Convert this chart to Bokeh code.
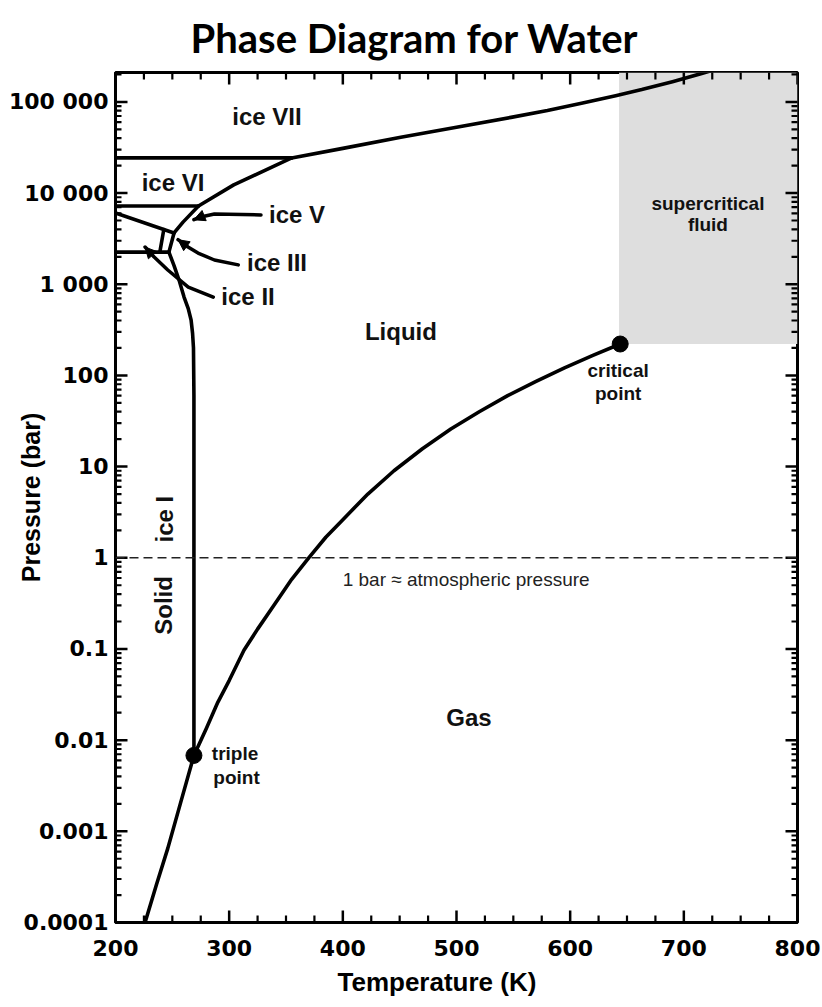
import math
from bokeh.plotting import figure
from bokeh.models import (FixedTicker, CustomJSTickFormatter, Title,
                          Span, Range1d, Arrow, NormalHead)
from bokeh.core.properties import value
from bokeh.embed import file_html
from bokeh.resources import INLINE

# ---------------- data (temperature in K, pressure in bar) ----------------
x_lo, x_hi = 200, 800
y_lo, y_hi = 1e-4, 2.1e5
x_ticks = [200, 300, 400, 500, 600, 700, 800]
x_minor = [225, 250, 275, 325, 350, 375, 425, 450, 475, 525, 550, 575, 625, 650, 675, 725, 750, 775]
y_ticks = [1e-4, 1e-3, 1e-2, 1e-1, 1, 10, 100, 1000, 10000, 100000]
y_tick_labels = ["0.0001", "0.001", "0.01", "0.1", "1", "10", "100", "1 000", "10 000", "100 000"]

# solid - gas (sublimation)
sub_T = [226, 236, 246, 257, 269]
sub_P = [1.0e-4, 2.6e-4, 6.5e-4, 0.002, 0.0068]
# liquid - gas (vaporization) up to the critical point
vap_T = [269, 280, 290, 300, 313, 325, 340, 355, 370, 385, 400, 422, 445, 470, 495, 520,
         545, 570, 595, 620, 644]
vap_P = [0.0068, 0.0135, 0.026, 0.045, 0.097, 0.165, 0.31, 0.58, 1.0, 1.68, 2.62, 5.0, 9.0,
         15.7, 25.8, 40.0, 60.0, 86.0, 121, 166, 221]
# ice I - liquid (melting)
melt_T = [269, 269, 268.6, 267.8, 266.5, 264, 260.3, 255.9, 251.5, 247]
melt_P = [0.0068, 60, 200, 290, 405, 540, 724, 1110, 1600, 2250]
# ice I / ice II boundary
ih_T = [200, 247]
ih_P = [2250, 2250]
# ice II / ice V boundary (through ice III corner)
iiv_T = [200, 242.5, 251.5]
iiv_P = [6050, 3980, 3650]
# ice II / ice III
iiiii_T = [242.5, 239]
iiiii_P = [3980, 2250]
# ice III / liquid
iiil_T = [251.5, 247]
iiil_P = [3650, 2250]
# ice V / liquid
vl_T = [251.5, 259.4, 273]
vl_P = [3650, 4800, 7200]
# ice V / ice VI
vvi_T = [200, 273]
vvi_P = [7200, 7200]
# ice VI / liquid
vil_T = [273, 304, 355]
vil_P = [7200, 12300, 24300]
# ice VI / ice VII
vivii_T = [200, 355]
vivii_P = [24300, 24300]
# ice VII / liquid
viil_T = [355, 400, 451, 500, 548, 580, 610, 640, 663, 690, 715, 740]
viil_P = [24300, 30900, 40900, 52700, 67600, 80400, 96600, 117000, 136500, 166700, 204000, 251000]

triple_T, triple_P = 269, 0.0068
crit_T, crit_P = 644, 221
sc_left = 643

# pointers for the small ice regions
ptrV_T = [328, 287, 275, 269]
ptrV_P = [5750, 5900, 5470, 5100]
ptrIII_T = [308, 287, 272.6, 263.8, 255]
ptrIII_P = [1630, 1845, 2200, 2560, 3080]
ptrII_T = [286, 264, 246, 234, 226]
ptrII_P = [722, 931, 1432, 1990, 2560]

# region labels
big_text = ["ice VII", "ice VI", "ice V", "ice III", "ice II", "Liquid", "Gas"]
big_T = [333.3, 250.6, 359.7, 342.1, 316.6, 451.1, 510.9]
big_P = [68400, 12900, 5750, 1750, 741, 306, 0.0177]
rot_text = ["ice I", "Solid"]
rot_T = [242.7, 241.8]
rot_P = [2.65, 0.30]
small_text = ["supercritical", "fluid", "critical", "point", "triple", "point"]
small_T = [721.2, 721.2, 642.2, 642.2, 305.2, 306.5]
small_P = [7780, 4470, 114, 64, 0.00714, 0.0039]
atm_text = ["1 bar \u2248 atmospheric pressure"]
atm_T = [508.5]
atm_P = [0.58]

# ---------------- figure ----------------
W, H = 822, 1007
p = figure(width=W, height=H, x_range=Range1d(x_lo, x_hi), y_range=Range1d(y_lo, y_hi),
           y_axis_type="log", output_backend="svg", toolbar_location=None,
           min_border_left=115, min_border_right=25, min_border_top=72, min_border_bottom=85)
xa = p.xaxis[0]
ya = p.yaxis[0]
p.xgrid.visible = False
p.ygrid.visible = False
p.outline_line_color = "black"
p.outline_line_width = 3
p.background_fill_color = "white"

# supercritical region
p.quad(left=[sc_left], right=[x_hi], bottom=[crit_P], top=[y_hi],
       fill_color="#dedede", line_color=None)

# 1 bar line
p.add_layout(Span(location=1, dimension="width", line_color="#222222",
                  line_width=1.4, line_dash="9 5"))

LW = 3.6
for xs, ys in [(sub_T, sub_P), (vap_T, vap_P), (melt_T, melt_P), (ih_T, ih_P),
               (iiv_T, iiv_P), (iiiii_T, iiiii_P), (iiil_T, iiil_P), (vl_T, vl_P),
               (vvi_T, vvi_P), (vil_T, vil_P), (vivii_T, vivii_P), (viil_T, viil_P)]:
    p.line(xs, ys, line_color="black", line_width=LW, line_cap="round", line_join="round")

# pointers
for xs, ys in [(ptrV_T, ptrV_P), (ptrIII_T, ptrIII_P), (ptrII_T, ptrII_P)]:
    p.line(xs, ys, line_color="black", line_width=3.5, line_cap="round", line_join="round")
    p.add_layout(Arrow(end=NormalHead(size=11, fill_color="black", line_color="black"),
                       x_start=xs[-2], y_start=ys[-2], x_end=xs[-1], y_end=ys[-1],
                       line_alpha=0))

# points
p.scatter([triple_T, crit_T], [triple_P, crit_P], size=16, color="black")

# inward tick marks on all four sides (half of each dash is clipped by the frame)
y_minor = [k * 10.0 ** d for d in range(-4, 6) for k in range(2, 10) if k * 10.0 ** d <= y_hi]
for yy in (y_lo, y_hi):
    p.scatter(x_ticks, [yy] * len(x_ticks), marker="dash", angle=math.pi / 2, size=24,
              line_color="black", line_width=2.5)
    p.scatter(x_minor, [yy] * len(x_minor), marker="dash", angle=math.pi / 2, size=14,
              line_color="black", line_width=2.2)
for xx in (x_lo, x_hi):
    p.scatter([xx] * len(y_ticks), y_ticks, marker="dash", size=24,
              line_color="black", line_width=2.5)
    p.scatter([xx] * len(y_minor), y_minor, marker="dash", size=12,
              line_color="black", line_width=2.2)

# texts
p.text(big_T, big_P, text=big_text, text_font=value("Liberation Sans"), text_font_style="bold",
       text_font_size="24px", text_align="center", text_baseline="middle", text_color="#111111")
p.text(rot_T, rot_P, text=rot_text, angle=math.pi / 2, text_font=value("Liberation Sans"),
       text_font_style="bold", text_font_size="24px", text_align="center",
       text_baseline="middle", text_color="#111111")
p.text(small_T, small_P, text=small_text, text_font=value("Liberation Sans"), text_font_style="bold",
       text_font_size="19px", text_align="center", text_baseline="middle", text_color="#111111")
p.text(atm_T, atm_P, text=atm_text, text_font=value("Liberation Sans"),
       text_font_size="19px", text_align="center", text_baseline="middle", text_color="#222222")

# axes
ya.formatter = CustomJSTickFormatter(args=dict(labels=y_tick_labels), code="""
const k = Math.round(Math.log10(tick)) + 4;
return (k >= 0 && k < labels.length) ? labels[k] : "";
""")
xa.ticker = FixedTicker(ticks=x_ticks, minor_ticks=[])
ya.ticker = FixedTicker(ticks=y_ticks, minor_ticks=[])

for ax in (xa, ya):
    ax.axis_line_width = 3
    ax.axis_line_color = "black"
    ax.major_tick_in = 0
    ax.major_tick_out = 0
    ax.minor_tick_in = 0
    ax.minor_tick_out = 0
    ax.major_label_text_font = "DejaVu Sans"
    ax.major_label_text_font_style = "bold"
    ax.major_label_text_font_size = "22px"
    ax.major_label_text_color = "black"

xa.major_label_standoff = 17
ya.major_label_standoff = 7

ya.axis_label = "Pressure (bar)"
ya.axis_label_text_font = "Liberation Sans"
ya.axis_label_text_font_style = "bold"
ya.axis_label_text_font_size = "25px"
ya.axis_label_text_color = "black"
ya.axis_label_standoff = -39

p.add_layout(Title(text="Temperature (K)", align="left", offset=222, standoff=13,
                   text_font="Liberation Sans", text_font_style="bold",
                   text_font_size="26px", text_color="black"), "below")

p.title.text = "Phase Diagram for Water"
p.title.align = "left"
p.title.offset = 75
p.title.standoff = 22
p.title.text_font = "Lato"
p.title.text_font_style = "bold"
p.title.text_font_size = "40px"
p.title.text_color = "black"

open("out.html", "w").write(file_html(p, INLINE))
